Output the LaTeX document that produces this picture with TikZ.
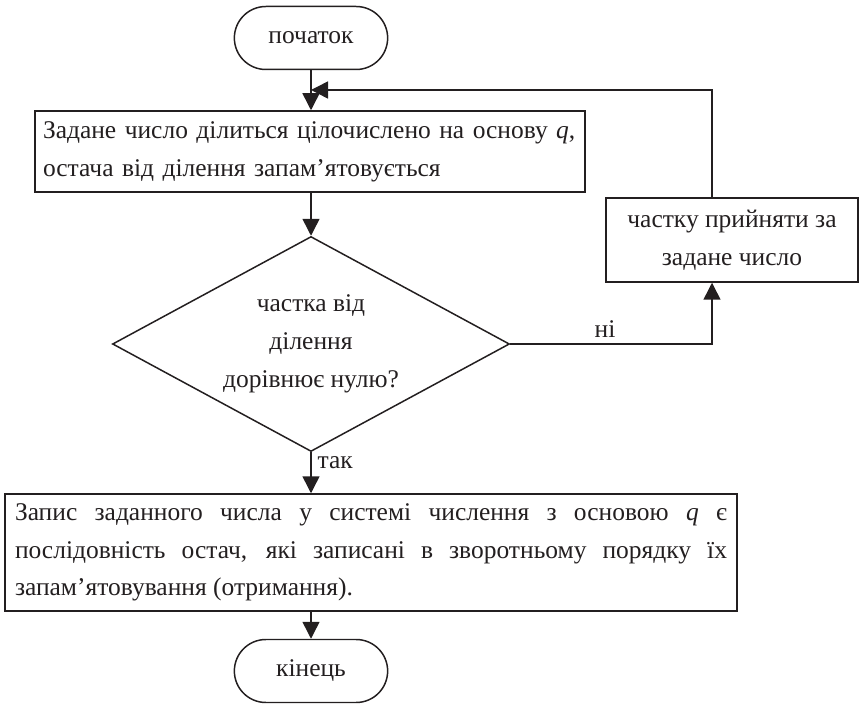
\documentclass[tikz,border=0pt]{standalone}
\usepackage{fontspec}
\setmainfont{Liberation Serif}
\usetikzlibrary{arrows.meta, shapes.geometric, shapes.misc}
\definecolor{ink}{HTML}{231F20}

\begin{document}
\begin{tikzpicture}[>={Triangle[length=3.4mm, width=3.4mm]},
  every node/.style={text=ink, font=\fontsize{14.5}{21.5}\selectfont},
  term/.style={draw=ink, line width=0.85pt, rounded rectangle, minimum width=3.3cm, minimum height=1.26cm},
  proc/.style={draw=ink, line width=0.85pt, rectangle, inner sep=0pt},
  cond/.style={draw=ink, line width=0.85pt, diamond, aspect=1.85, minimum width=7.94cm, minimum height=4.3cm, inner sep=0pt, align=center},
  flow/.style={draw=ink, line width=0.85pt, ->}]

\useasboundingbox (0,0) rectangle (17.26,14.08);

% --- Start ---
\node[term] (start) at (6.22,13.32) {початок};

% --- Division step ---
\node[proc, minimum width=11cm, minimum height=1.62cm, text width=10.68cm, align=left] (divide) at (6.20,11.05)
  {Задане число ділиться цілочислено на основу \textit{q},\\ остача від ділення запам’ятовується};

% --- Check quotient ---
\node[cond] (test) at (6.22,7.2) {частка від\\ ділення\\ дорівнює нулю?};

% --- Quotient becomes the number ---
\node[proc, minimum width=5.04cm, minimum height=1.68cm, align=center] (swap) at (14.64,9.28)
  {частку прийняти за\\ задане число};

% --- Result ---
\node[proc, minimum width=14.64cm, minimum height=2.34cm, text width=14.24cm, align=justify] (result) at (7.42,3.03)
  {\tolerance=10000 Запис заданного числа у системі числення з основою \textit{q} є\linebreak
   послідовність остач, які записані в зворотньому порядку їх\linebreak
   запам’ятовування (отримання).};

% --- End ---
\node[term] (stop) at (6.22,0.66) {кінець};

% Loop corner
\coordinate (back) at (14.24,12.28);

% Connectors
\draw[flow] (start.south) -- (start.south |- divide.north);
\draw[flow] (test.north |- divide.south) -- (test.north);
\draw[flow] (test.south) -- node[right, pos=0.25] {так} (test.south |- result.north);
\draw[flow] (stop.north |- result.south) -- (stop.north);
\draw[flow] (test.east) -- node[above, pos=0.47] {ні} (test.east -| back) -- (back |- swap.south);
\draw[flow] (back |- swap.north) -- (back) -- (back -| start.south);

\end{tikzpicture}
\end{document}
